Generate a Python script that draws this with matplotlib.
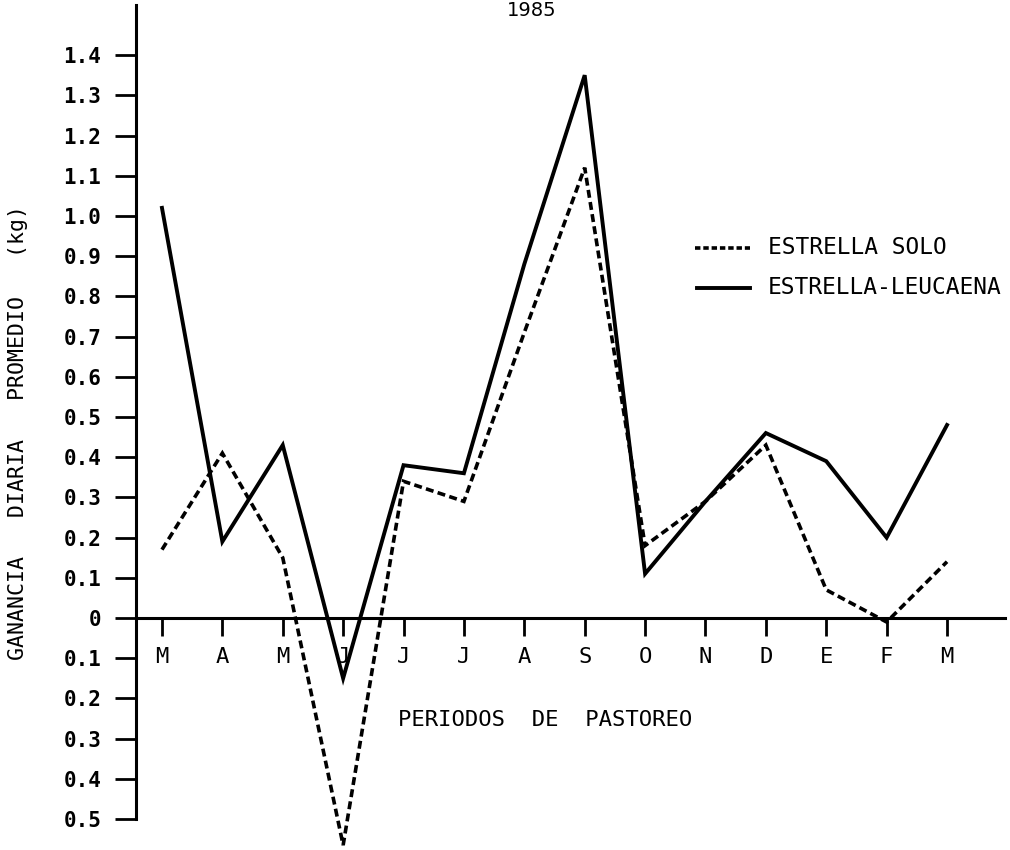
import matplotlib
matplotlib.use("Agg")
import matplotlib.pyplot as plt
from matplotlib.ticker import FuncFormatter

# periodos de pastoreo (1985 - 1986)
periodos = ["M", "A", "M", "J", "J", "J", "A", "S", "O", "N", "D", "E", "F", "M"]

estrella_solo = [0.17, 0.41, 0.15, -0.565, 0.34, 0.29, 0.71, 1.12,
                 0.18, 0.29, 0.43, 0.07, -0.01, 0.14]
estrella_leucaena = [1.02, 0.19, 0.43, -0.15, 0.38, 0.36, 0.88, 1.35,
                     0.11, 0.29, 0.46, 0.39, 0.20, 0.48]

y_ticks = [-0.5, -0.4, -0.3, -0.2, -0.1, 0, 0.1, 0.2, 0.3, 0.4, 0.5, 0.6,
           0.7, 0.8, 0.9, 1.0, 1.1, 1.2, 1.3, 1.4]

mono = "DejaVu Sans Mono"

fig = plt.figure(figsize=(10.1, 8.5), dpi=100)
ax = fig.add_axes([136 / 1010, 0, (1005 - 136) / 1010, 1])

x = list(range(len(periodos)))
ax.plot(x, estrella_solo, color="black", lw=2.6, dashes=(2.2, 1.2),
        zorder=4, solid_joinstyle="miter", dash_joinstyle="miter")
ax.plot(x, estrella_leucaena, color="black", lw=2.8, zorder=4,
        solid_joinstyle="miter")

ax.set_xlim(-0.43, 13.96)
ax.set_ylim(-0.577, 1.537)

for s in ["top", "right"]:
    ax.spines[s].set_visible(False)
ax.spines["bottom"].set_position(("data", 0))
ax.spines["bottom"].set_linewidth(2.2)
ax.spines["left"].set_linewidth(2.2)
ax.spines["left"].set_bounds(-0.5, 1.525)

ax.set_xticks(x)
ax.set_xticklabels(periodos, fontfamily=mono, fontsize=16)
ax.tick_params(axis="x", direction="out", length=13, width=2, pad=8)

ax.set_yticks(y_ticks)
ax.yaxis.set_major_formatter(FuncFormatter(
    lambda v, p: "0" if abs(v) < 1e-9 else "%.1f" % abs(v)))
ax.tick_params(axis="y", direction="out", length=15, width=2, pad=10,
               labelsize=15)
for lab in ax.get_yticklabels():
    lab.set_fontfamily(mono)
    lab.set_fontweight("bold")

fig.text(18 / 1010, 1 - 433 / 850,
         "GANANCIA   DIARIA   PROMEDIO   (kg)", rotation=90,
         ha="center", va="center", fontsize=15.5, fontfamily=mono)

fig.text((398 + 693) / 2 / 1010, 1 - 720 / 850,
         "PERIODOS  DE  PASTOREO", ha="center", va="center",
         fontsize=16, fontfamily=mono)

fig.text(532 / 1010, 1 - 11 / 850, "1985", ha="center", va="center",
         fontsize=14, fontfamily="DejaVu Sans")

# leyenda
fig.lines.append(plt.Line2D([695 / 1010, 750 / 1010], [1 - 248 / 850] * 2,
                            transform=fig.transFigure, color="black",
                            lw=2.6, dashes=(1.5, 0.8)))
fig.lines.append(plt.Line2D([697 / 1010, 750 / 1010], [1 - 288 / 850] * 2,
                            transform=fig.transFigure, color="black",
                            lw=2.8))
fig.text(768 / 1010, 1 - 248 / 850, "ESTRELLA SOLO", ha="left",
         va="center", fontsize=16.5, fontfamily=mono)
fig.text(768 / 1010, 1 - 288 / 850, "ESTRELLA-LEUCAENA", ha="left",
         va="center", fontsize=16.5, fontfamily=mono)

fig.savefig("out.png", dpi=100)
